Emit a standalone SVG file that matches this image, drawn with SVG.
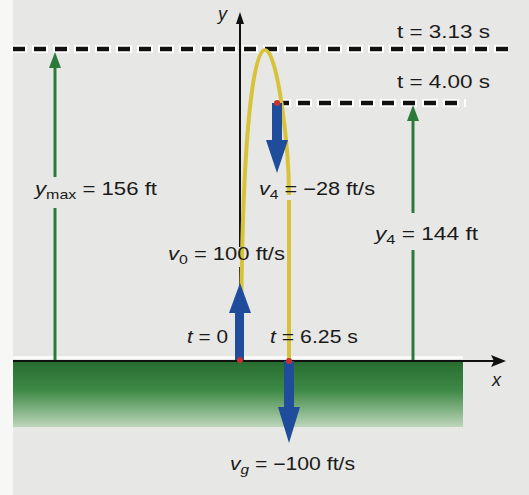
<svg xmlns="http://www.w3.org/2000/svg" width="529" height="495" viewBox="0 0 529 495">
<defs>
<linearGradient id="ground" x1="0" y1="0" x2="0" y2="1">
<stop offset="0" stop-color="#276c30"/>
<stop offset="0.45" stop-color="#3f8a47"/>
<stop offset="1" stop-color="#bdd6ba"/>
</linearGradient>
<style>
.lbl{font-family:"Liberation Sans",Arial,sans-serif;font-size:18px;fill:#1a1a1a}
.it{font-style:italic}
.sub{font-size:13px}
.dashW{stroke:#ffffff;stroke-width:8;stroke-dasharray:16 5;fill:none}
.dashB{stroke:#111111;stroke-width:4.5;stroke-dasharray:12 9;fill:none}
.green{stroke:#2c7a3a;stroke-width:3;fill:none}
.greenHead{fill:#2c7a3a}
.blue{fill:#1f4d9c}
.red{fill:#c8322c}
.axis{stroke:#111111;stroke-width:2;fill:none}
.axisHead{fill:#111111}
</style>
</defs>
<rect x="0" y="0" width="529" height="495" fill="#f7f7f6"/>
<rect x="13" y="0" width="516" height="495" fill="#e7e7e5"/>
<g id="ground-area">
<rect x="13" y="361" width="450" height="66" fill="url(#ground)"/>
<line x1="13" y1="357.5" x2="463" y2="357.5" stroke="#ffffff" stroke-width="2.5"/>
</g>
<g id="level-lines">
<line class="dashW" x1="11" y1="49" x2="508" y2="49"/>
<line class="dashB" x1="13" y1="49" x2="508" y2="49"/>
<line class="dashW" x1="275" y1="103" x2="466" y2="103"/>
<line class="dashB" x1="277" y1="103" x2="466" y2="103"/>
</g>
<g id="axes">
<line class="axis" x1="240" y1="20" x2="240" y2="247"/>
<line class="axis" x1="240" y1="267" x2="240" y2="300" stroke-width="3"/>
<polygon class="axisHead" points="240,12 236,24 244,24"/>
<line class="axis" x1="13" y1="361" x2="495" y2="361" stroke-width="2.5"/>
<polygon class="axisHead" points="506,361 491,355 494,361 491,367"/>
</g>
<g id="trajectory">
<path d="M241,360 C241,150 252,50 265,50 C278,50 289,150 289,195 M289,200 L289,360" stroke="#d8c23a" stroke-width="4" fill="none"/>
</g>
<g id="connectors">
<line class="green" x1="55" y1="360" x2="55" y2="208"/>
<line class="green" x1="55" y1="177" x2="55" y2="64"/>
<polygon class="greenHead" points="55,52 49,68 61,68"/>
<line class="green" x1="413" y1="360" x2="413" y2="250"/>
<line class="green" x1="413" y1="213" x2="413" y2="117"/>
<polygon class="greenHead" points="413,105 407,121 419,121"/>
<polygon class="blue" points="235,360 244,360 244,313 251,313 240,283 229,313 235,313"/>
<polygon class="blue" points="272,103 282,103 282,140 288,140 277,173 266,140 272,140"/>
<polygon class="blue" points="284,361 294,361 294,407 300,407 289,443 278,407 284,407"/>
<circle class="red" cx="240" cy="360" r="3"/>
<circle class="red" cx="289" cy="361" r="3"/>
<circle class="red" cx="277" cy="103" r="3"/>
</g>
<g id="labels">
<text class="lbl it" x="218" y="20">y</text>
<text class="lbl it" x="492" y="386">x</text>
<text class="lbl" x="397" y="38" textLength="93" lengthAdjust="spacingAndGlyphs">t = 3.13 s</text>
<text class="lbl" x="397" y="88" textLength="93" lengthAdjust="spacingAndGlyphs">t = 4.00 s</text>
<text class="lbl" x="35" y="195" textLength="122" lengthAdjust="spacingAndGlyphs"><tspan class="it">y</tspan><tspan class="sub" dy="4">max</tspan><tspan dy="-4"> = 156 ft</tspan></text>
<text class="lbl" x="259" y="195" textLength="116" lengthAdjust="spacingAndGlyphs"><tspan class="it">v</tspan><tspan class="sub" dy="4">4</tspan><tspan dy="-4"> = −28 ft/s</tspan></text>
<text class="lbl" x="375" y="240" textLength="103" lengthAdjust="spacingAndGlyphs"><tspan class="it">y</tspan><tspan class="sub" dy="4">4</tspan><tspan dy="-4"> = 144 ft</tspan></text>
<text class="lbl" x="168" y="260" textLength="117" lengthAdjust="spacingAndGlyphs"><tspan class="it">v</tspan><tspan class="sub" dy="4">0</tspan><tspan dy="-4"> = 100 ft/s</tspan></text>
<text class="lbl" x="187" y="343" textLength="41" lengthAdjust="spacingAndGlyphs"><tspan class="it">t</tspan> = 0</text>
<text class="lbl" x="270" y="343" textLength="88" lengthAdjust="spacingAndGlyphs"><tspan class="it">t</tspan> = 6.25 s</text>
<text class="lbl" x="230" y="470" textLength="125" lengthAdjust="spacingAndGlyphs"><tspan class="it">v</tspan><tspan class="sub it" dy="4">g</tspan><tspan dy="-4"> = −100 ft/s</tspan></text>
</g>
</svg>
